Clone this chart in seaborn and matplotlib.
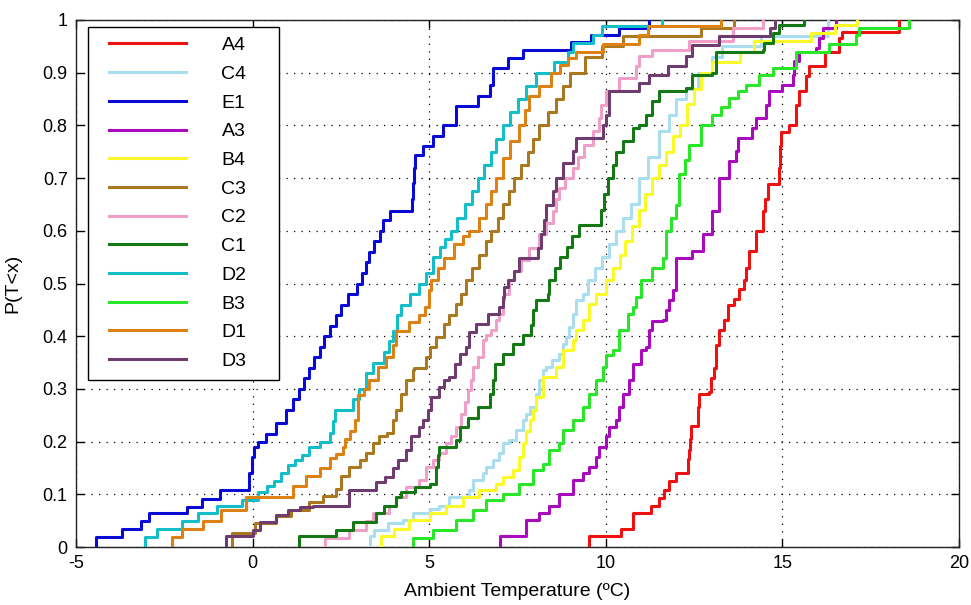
import numpy as np
import matplotlib
matplotlib.use("Agg")
import matplotlib.pyplot as plt
from matplotlib.patches import Rectangle
import seaborn as sns

# ---------------- data (temperature at each step, cumulative P after the step) ----------------
names = ["A4", "C4", "E1", "A3", "B4", "C3", "C2", "C1", "D2", "B3", "D1", "D3"]
colors = ["#EE1111", "#AADDF0", "#0A0AD6", "#AA0ABE", "#FAFA28", "#AA781E",
          "#F0A0C8", "#147814", "#14BEC8", "#28E628", "#DC8214", "#6E3C6E"]

A4_t = [9.53,10.43,10.76,11.28,11.52,11.66,11.8,11.99,12.32,12.35,12.37,12.41,12.6,12.62,12.64,12.93,12.98,13.07,13.12,13.21,13.35,13.45,13.64,13.78,13.92,13.98,14.06,14.25,14.44,14.5,14.58,14.9,14.92,14.95,15.19,15.38,15.47,15.66,15.76,16.2,16.6,16.7,18.3]
A4_p = [0.02,0.035,0.064,0.077,0.093,0.109,0.125,0.141,0.167,0.185,0.205,0.23,0.243,0.265,0.29,0.294,0.32,0.339,0.383,0.411,0.43,0.459,0.471,0.49,0.507,0.53,0.561,0.6,0.637,0.66,0.688,0.72,0.76,0.788,0.8,0.839,0.865,0.893,0.912,0.94,0.966,0.978,1.0]

C4_t = [3.31,3.45,3.83,4.25,4.54,5.01,5.29,5.57,6.14,6.23,6.52,6.61,6.8,6.99,7.08,7.27,7.46,7.65,7.74,7.84,8.02,8.12,8.21,8.31,8.49,8.68,8.78,8.87,8.97,9.06,9.16,9.35,9.49,9.7,9.9,10.1,10.3,10.5,10.7,10.95,11.2,11.51,11.8,12.0,12.27,12.6,13.0,13.3,14.4,16.3]
C4_p = [0.02,0.032,0.045,0.051,0.064,0.073,0.077,0.095,0.108,0.127,0.14,0.152,0.165,0.178,0.197,0.203,0.222,0.241,0.253,0.266,0.291,0.317,0.336,0.342,0.355,0.367,0.386,0.399,0.418,0.443,0.469,0.481,0.507,0.53,0.55,0.575,0.6,0.625,0.65,0.7,0.74,0.789,0.82,0.85,0.87,0.9,0.93,0.95,0.97,1.0]

E1_t = [-4.42,-3.69,-3.17,-2.93,-1.85,-1.42,-0.91,-0.10,-0.02,0.05,0.16,0.37,0.65,0.95,1.15,1.31,1.45,1.6,1.75,1.9,2.02,2.2,2.35,2.5,2.7,2.95,3.1,3.2,3.3,3.45,3.6,3.7,3.88,4.5,4.53,4.56,4.6,4.82,5.1,5.4,5.75,6.37,6.71,6.8,7.22,7.65,9.01,9.58,10.38,11.23]
E1_p = [0.019,0.035,0.05,0.064,0.076,0.092,0.109,0.14,0.17,0.19,0.2,0.215,0.235,0.26,0.28,0.3,0.32,0.34,0.36,0.38,0.4,0.42,0.44,0.46,0.48,0.5,0.52,0.54,0.56,0.58,0.6,0.62,0.638,0.66,0.69,0.72,0.744,0.76,0.78,0.8,0.836,0.855,0.877,0.909,0.928,0.944,0.958,0.972,0.985,1.0]

A3_t = [7.0,7.74,8.1,8.4,8.68,9.06,9.35,9.53,9.72,9.82,10.0,10.1,10.29,10.38,10.48,10.66,10.76,11.0,11.14,11.23,11.32,11.61,11.7,11.8,11.89,11.98,12.45,12.74,13.02,13.21,13.49,13.68,13.73,14.15,14.25,14.53,14.63,15.0,15.29,15.33,15.47,15.95,16.04,16.14,16.51]
A3_p = [0.02,0.051,0.065,0.077,0.101,0.127,0.14,0.152,0.171,0.19,0.21,0.228,0.241,0.266,0.291,0.317,0.348,0.374,0.38,0.412,0.428,0.431,0.45,0.469,0.488,0.548,0.561,0.593,0.637,0.7,0.732,0.751,0.776,0.795,0.814,0.839,0.865,0.877,0.896,0.922,0.94,0.947,0.966,0.985,1.0]

B4_t = [3.64,4.0,4.44,5.01,5.48,5.95,6.42,6.89,7.1,7.36,7.55,7.65,7.75,7.84,7.93,8.02,8.21,8.59,8.78,9.06,9.16,9.35,9.53,9.72,10.0,10.2,10.4,10.55,10.75,10.95,11.1,11.3,11.5,11.7,11.9,12.1,12.3,12.5,12.7,13.0,13.8,14.2,15.8,16.5,17.1]
B4_p = [0.02,0.035,0.051,0.064,0.077,0.095,0.108,0.12,0.133,0.146,0.171,0.197,0.22,0.241,0.26,0.285,0.323,0.342,0.374,0.393,0.412,0.431,0.462,0.481,0.507,0.53,0.555,0.58,0.61,0.64,0.67,0.7,0.725,0.75,0.78,0.8,0.84,0.87,0.9,0.92,0.94,0.96,0.975,0.99,1.0]

C3_t = [-0.57,0.08,0.65,1.1,1.6,2.0,2.35,2.5,2.74,3.03,3.2,3.4,3.59,3.8,3.97,4.06,4.2,4.35,4.54,4.58,4.91,5.01,5.2,5.43,5.57,5.76,5.9,6.04,6.2,6.4,6.6,6.75,6.95,7.1,7.25,7.4,7.6,7.8,7.95,8.1,8.35,8.6,8.8,9.0,9.4,9.9,10.5,12.7,13.63]
C3_p = [0.026,0.045,0.058,0.071,0.085,0.096,0.11,0.134,0.152,0.165,0.178,0.197,0.21,0.216,0.241,0.26,0.291,0.317,0.336,0.339,0.361,0.38,0.399,0.424,0.44,0.462,0.481,0.507,0.53,0.555,0.58,0.6,0.625,0.65,0.675,0.7,0.725,0.75,0.775,0.8,0.825,0.85,0.875,0.9,0.93,0.95,0.97,0.985,1.0]

C2_t = [2.04,2.74,3.22,3.4,3.87,4.06,4.35,4.72,4.91,5.1,5.29,5.48,5.62,5.76,5.9,6.0,6.09,6.19,6.23,6.38,6.52,6.61,6.75,6.89,6.99,7.08,7.13,7.27,7.41,7.6,7.83,8.12,8.3,8.5,8.6,8.68,8.85,9.06,9.2,9.39,9.63,9.82,9.86,10.0,10.38,10.85,10.95,11.32,12.36,13.6,14.44]
C2_p = [0.017,0.032,0.05,0.064,0.077,0.095,0.114,0.127,0.152,0.165,0.178,0.197,0.21,0.228,0.253,0.275,0.298,0.317,0.342,0.361,0.393,0.402,0.412,0.431,0.443,0.469,0.481,0.507,0.523,0.545,0.567,0.593,0.615,0.637,0.66,0.681,0.7,0.719,0.74,0.763,0.789,0.814,0.839,0.865,0.89,0.912,0.931,0.944,0.96,0.985,1.0]

C1_t = [1.31,2.37,2.84,3.5,3.73,4.06,4.2,4.6,5.01,5.2,5.24,5.29,5.76,5.86,6.1,6.38,6.71,6.8,6.85,7.08,7.36,7.65,7.88,7.93,8.02,8.35,8.4,8.55,8.7,8.9,9.05,9.25,9.86,9.95,10.05,10.2,10.29,10.5,10.76,10.95,11.13,11.32,11.51,12.27,12.45,13.02,13.12,14.44,14.48,14.72,14.9,15.6]
C1_p = [0.02,0.032,0.048,0.064,0.077,0.095,0.105,0.113,0.12,0.152,0.175,0.19,0.203,0.228,0.245,0.266,0.291,0.317,0.348,0.367,0.386,0.402,0.421,0.45,0.469,0.481,0.507,0.53,0.55,0.57,0.59,0.611,0.64,0.67,0.7,0.725,0.75,0.77,0.795,0.8,0.82,0.846,0.865,0.871,0.896,0.899,0.94,0.944,0.956,0.975,0.991,1.0]

D2_t = [-3.05,-2.7,-2.0,-1.56,-1.0,-0.3,0.15,0.4,0.6,0.8,1.0,1.2,1.4,1.6,1.9,2.2,2.27,2.32,2.84,3.0,3.2,3.4,3.73,3.85,3.97,4.1,4.2,4.45,4.7,4.9,5.1,5.3,5.45,5.63,5.8,6.0,6.2,6.37,6.55,6.75,6.9,7.08,7.3,7.5,7.75,8.02,8.54,8.92,9.06,9.63,9.9,11.6]
D2_p = [0.019,0.035,0.05,0.065,0.077,0.09,0.105,0.115,0.125,0.14,0.155,0.165,0.175,0.19,0.2,0.216,0.24,0.26,0.28,0.3,0.33,0.35,0.37,0.39,0.41,0.44,0.46,0.48,0.5,0.52,0.55,0.57,0.585,0.6,0.625,0.65,0.675,0.7,0.725,0.75,0.775,0.8,0.825,0.85,0.875,0.9,0.92,0.94,0.956,0.972,0.988,1.0]

B3_t = [4.54,5.1,5.76,6.23,6.61,7.08,7.55,7.93,8.21,8.4,8.68,8.78,9.06,9.35,9.53,9.72,9.91,10.0,10.19,10.38,10.62,10.76,10.85,11.0,11.3,11.61,11.7,11.85,11.98,12.08,12.25,12.36,12.69,13.02,13.25,13.49,13.75,13.97,14.35,14.72,15.38,16.33,17.08,17.17,18.58]
B3_p = [0.017,0.032,0.051,0.07,0.089,0.101,0.12,0.146,0.158,0.184,0.197,0.222,0.241,0.266,0.291,0.317,0.342,0.364,0.374,0.412,0.443,0.456,0.475,0.507,0.53,0.548,0.599,0.625,0.649,0.707,0.735,0.763,0.801,0.82,0.835,0.852,0.865,0.877,0.896,0.909,0.94,0.955,0.972,0.985,1.0]

D1_t = [-2.29,-2.0,-1.4,-0.9,-0.18,1.14,1.5,1.9,2.18,2.37,2.55,2.62,2.75,2.89,2.98,3.15,3.3,3.55,3.78,3.97,4.06,4.44,4.7,4.87,5.0,5.05,5.25,5.43,5.7,5.95,6.14,6.4,6.61,6.75,6.89,7.08,7.3,7.55,7.7,7.83,8.1,8.45,8.7,8.92,9.15,9.91,10.95,11.2,13.26]
D1_p = [0.019,0.035,0.05,0.07,0.095,0.115,0.135,0.15,0.168,0.177,0.19,0.205,0.22,0.241,0.288,0.3,0.317,0.342,0.361,0.383,0.409,0.427,0.44,0.456,0.488,0.507,0.53,0.548,0.575,0.59,0.6,0.625,0.65,0.675,0.7,0.738,0.77,0.8,0.83,0.855,0.875,0.9,0.915,0.928,0.94,0.955,0.972,0.988,1.0]

D3_t = [-0.74,0.01,0.2,0.67,1.0,1.33,1.7,2.72,3.5,3.75,3.97,4.11,4.35,4.49,4.72,4.82,4.96,5.05,5.29,5.43,5.57,5.72,5.86,6.04,6.14,6.33,6.66,6.99,7.08,7.13,7.22,7.41,7.55,8.07,8.17,8.25,8.31,8.5,8.59,8.78,9.06,9.15,9.91,10.0,10.1,10.95,11.23,11.75,12.27,12.45,13.2,14.65,14.8]
D3_p = [0.02,0.032,0.048,0.061,0.07,0.075,0.077,0.108,0.124,0.133,0.15,0.165,0.184,0.21,0.228,0.241,0.26,0.285,0.304,0.317,0.323,0.348,0.367,0.38,0.408,0.424,0.443,0.456,0.475,0.494,0.507,0.523,0.548,0.567,0.593,0.62,0.649,0.675,0.7,0.729,0.751,0.776,0.8,0.82,0.865,0.88,0.896,0.912,0.931,0.953,0.969,0.985,1.0]

series_t = [A4_t, C4_t, E1_t, A3_t, B4_t, C3_t, C2_t, C1_t, D2_t, B3_t, D1_t, D3_t]
series_p = [A4_p, C4_p, E1_p, A3_p, B4_p, C3_p, C2_p, C1_p, D2_p, B3_p, D1_p, D3_p]

x_ticks = [-5, 0, 5, 10, 15, 20]
y_ticks = [0, 0.1, 0.2, 0.3, 0.4, 0.5, 0.6, 0.7, 0.8, 0.9, 1.0]
y_tick_labels = ["0", "0.1", "0.2", "0.3", "0.4", "0.5", "0.6", "0.7", "0.8", "0.9", "1"]

# ---------------- figure ----------------
plt.rcParams['font.family'] = ['Liberation Sans', 'DejaVu Sans']
W, H = 971, 605
AX_L, AX_R, AX_T, AX_B = 76, 959, 20, 547
aw, ah = AX_R - AX_L, AX_B - AX_T
fig = plt.figure(figsize=(W / 100, H / 100), dpi=100)
ax = fig.add_axes([AX_L / W, (H - AX_B) / H, aw / W, ah / H])

for name, col, t, p in zip(names, colors, series_t, series_p):
    t = np.asarray(t, float)
    p = np.asarray(p, float)
    w = np.diff(np.concatenate([[0.0], p]))
    sns.ecdfplot(x=t, weights=w, ax=ax, color=col, lw=2.2, label=name, zorder=3)

ax.set_xlim(-5, 20)
ax.set_ylim(0, 1)
ax.set_xticks(x_ticks)
ax.set_xticklabels([str(v) for v in x_ticks])
ax.set_yticks(y_ticks)
ax.set_yticklabels(y_tick_labels)
ax.grid(True, color="black", linestyle=(0, (1, 5)), linewidth=0.9, zorder=0)
ax.set_axisbelow(True)
ax.tick_params(direction="in", length=6, width=1, top=True, right=True,
               labelsize=13, colors="black", pad=6)
for s in ax.spines.values():
    s.set_color("#222222")
    s.set_linewidth(1.0)

ax.set_xlabel("Ambient Temperature (ºC)", fontsize=14, labelpad=8)
ax.set_ylabel("P(T<x)", fontsize=14, labelpad=15)

# legend box (pixel extents of the reference box)
bx0, bx1, by0, by1 = 88, 279, 27, 380
ax.add_patch(Rectangle(((bx0 - AX_L) / aw, (AX_B - by1) / ah), (bx1 - bx0) / aw, (by1 - by0) / ah,
                       transform=ax.transAxes, facecolor="white", edgecolor="black",
                       linewidth=1.0, zorder=4.5))
leg = ax.legend(loc="upper left", bbox_to_anchor=((98 - AX_L) / aw, (AX_B - by0 + 1) / ah),
                borderaxespad=0, frameon=False, fontsize=14,
                handlelength=4.0, handletextpad=1.8, labelspacing=0.57, borderpad=0.55)
leg.set_zorder(5)
for line in leg.get_lines():
    line.set_linewidth(2.2)

fig.savefig("out.png", dpi=100)
